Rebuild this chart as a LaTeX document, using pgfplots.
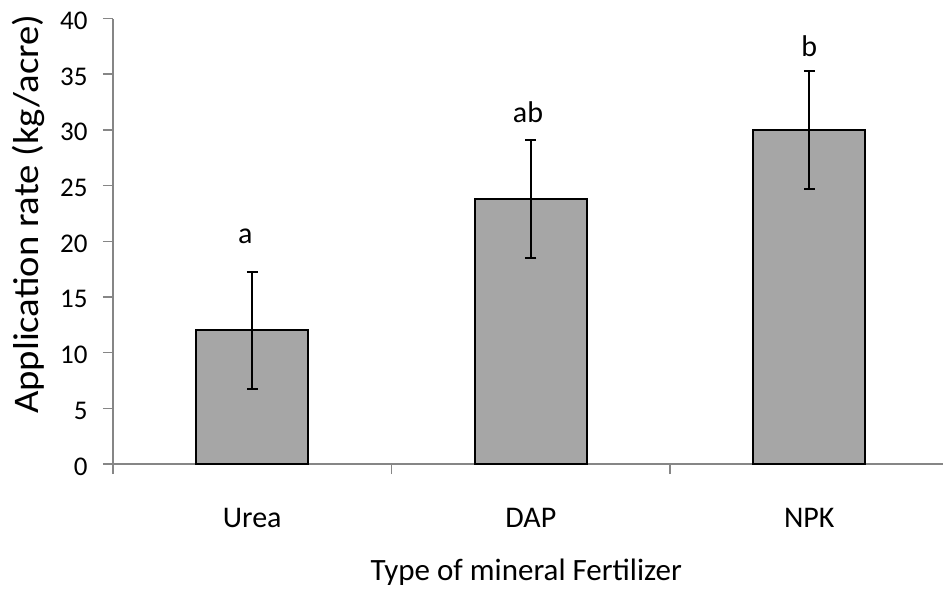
\documentclass[border=0pt]{standalone}
\usepackage{pgfplots}
\pgfplotsset{compat=1.18}
\usepackage{fontspec}
\setmainfont{Carlito}
\definecolor{axisgray}{HTML}{868686}
\definecolor{barfill}{HTML}{A6A6A6}
\begin{document}
\begin{tikzpicture}
\path[use as bounding box] (-56.5pt,-65pt) rectangle (415pt,232pt);
\begin{axis}[
  scale only axis,
  width=415pt, height=222.75pt,
  xmin=-0.5, xmax=2.48, ymin=0, ymax=40,
  axis x line*=bottom, axis y line*=left,
  axis line style={draw=axisgray, line width=0.75pt},
  clip=false,
  /pgf/number format/assume math mode=true,
  ytick={0,5,...,40},
  xtick={0,1,2}, xticklabels={Urea,DAP,NPK},
  minor xtick={-0.5,0.5,1.5,2.5},
  tick align=outside,
  major tick length=5pt, minor tick length=5pt,
  tick style={draw=axisgray, line width=0.75pt},
  major x tick style={draw=none},
  xticklabel style={font=\fontsize{15}{18}\selectfont, anchor=base, inner sep=0pt, yshift=-26.5pt},
  yticklabel style={font=\fontsize{13.5}{16}\selectfont, anchor=east, inner sep=0pt, xshift=-7.5pt, yshift=-1.2pt},
  xlabel={Type of mineral Fertilizer},
  xlabel style={at={(axis description cs:0.498,0)}, anchor=base, inner sep=0pt, yshift=-58pt, font=\fontsize{15.5}{18}\selectfont},
  ylabel={\scalebox{1.075}[1]{Application rate (kg/acre)}},
  ylabel style={at={(axis description cs:-0.102,0.561)}, anchor=center, font=\fontsize{18}{21}\selectfont},
]
\addplot[ybar, bar width=56pt, fill=barfill, draw=black, line width=1pt,
  error bars/.cd, y dir=both, y explicit,
  error bar style={line width=1pt, black},
  error mark options={rotate=90, mark size=2.75pt, line width=1pt, black}]
  coordinates {(0,12.0) +- (0,5.25) (1,23.8) +- (0,5.3) (2,29.95) +- (0,5.3)};
\node[anchor=base, font=\fontsize{15}{18}\selectfont] at (axis cs:-0.025,19.84) {a};
\node[anchor=base, font=\fontsize{15}{18}\selectfont] at (axis cs:0.99,30.7) {ab};
\node[anchor=base, font=\fontsize{15}{18}\selectfont] at (axis cs:2.0,36.63) {b};
\end{axis}
\end{tikzpicture}
\end{document}
